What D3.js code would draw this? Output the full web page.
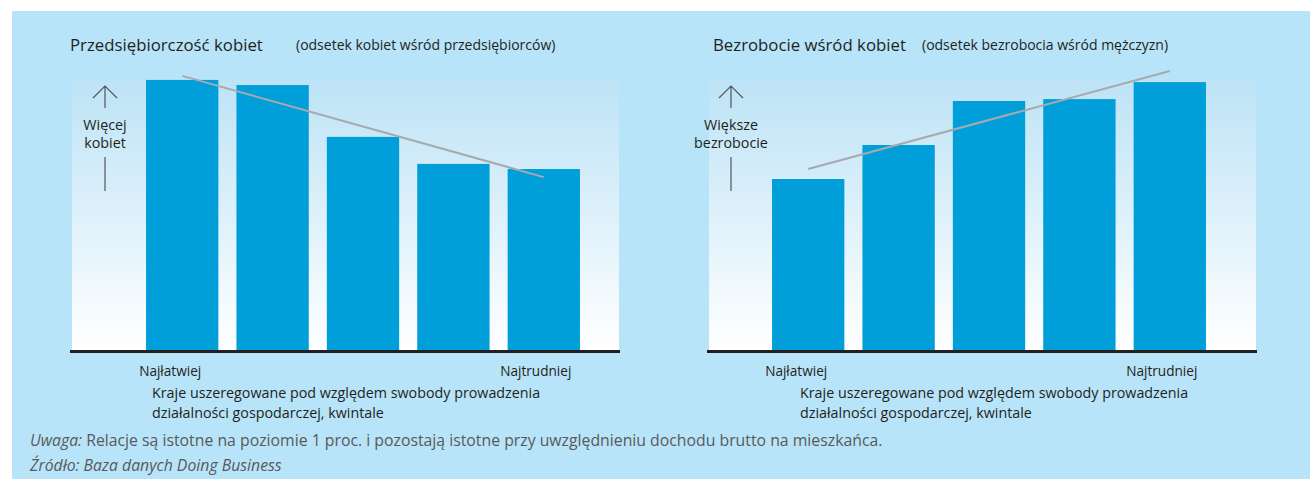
<!DOCTYPE html>
<html>
<head>
<meta charset="utf-8">
<script src="https://cdn.jsdelivr.net/npm/d3@7"></script>
<style>
  body { margin: 0; background: #fff; }
  text { font-family: "Open Sans", "Noto Sans", sans-serif; fill: #231f20; }
</style>
</head>
<body>
<script>
// quintiles, easiest -> hardest to do business
var quintiles = ["Q1", "Q2", "Q3", "Q4", "Q5"];
var womenEntrepreneurs = [100.4, 98.5, 79.3, 69.3, 67.4];
var womenUnemployment = [63.7, 76.3, 92.6, 93.3, 99.6];
var trendLeft = [101.9, 64.4];
var trendRight = [67.4, 103.7];
var endLabels = ["Najłatwiej", "Najtrudniej"];
var xTitle = ["Kraje uszeregowane pod względem swobody prowadzenia", "działalności gospodarczej, kwintale"];

var width = 1310, height = 479;
var svg = d3.select("body").append("svg").attr("width", width).attr("height", height);

var grad = svg.append("defs").append("linearGradient")
  .attr("id", "bg").attr("x1", 0).attr("y1", 0).attr("x2", 0).attr("y2", 1);
grad.append("stop").attr("offset", "0%").attr("stop-color", "#bde3f6");
grad.append("stop").attr("offset", "100%").attr("stop-color", "#ffffff");

svg.append("rect").attr("x", 12).attr("y", 11).attr("width", width - 12).attr("height", height - 11)
  .attr("fill", "#b8e4f9");

var y = d3.scaleLinear().domain([0, 100]).range([351, 81]);

function drawPanel(cfg) {
  var g = svg.append("g");
  var x = d3.scaleBand().domain(quintiles).range(cfg.range).paddingInner(0.2).paddingOuter(0.1);

  g.append("rect").attr("x", cfg.box[0]).attr("y", 80).attr("width", cfg.box[1] - cfg.box[0])
    .attr("height", y(0) - 80).attr("fill", "url(#bg)");

  g.selectAll(".bar").data(cfg.values).enter().append("rect")
    .attr("x", function(d, i) { return x(quintiles[i]); })
    .attr("y", function(d) { return y(d); })
    .attr("width", x.bandwidth())
    .attr("height", function(d) { return y(0) - y(d); })
    .attr("fill", "#009fda");

  g.append("line").attr("x1", cfg.box[0] - 2).attr("x2", cfg.box[1] + 1)
    .attr("y1", y(0) + 0.5).attr("y2", y(0) + 0.5)
    .attr("stroke", "#231f20").attr("stroke-width", 3);

  var cx = function(q) { return x(q) + x.bandwidth() / 2; };
  g.append("line")
    .attr("x1", cx(quintiles[0])).attr("y1", y(cfg.trend[0]))
    .attr("x2", cx(quintiles[4])).attr("y2", y(cfg.trend[1]))
    .attr("stroke", "#a7a9ac").attr("stroke-width", 2);

  // titles
  g.append("text").attr("x", cfg.titleX).attr("y", 51).attr("font-size", 16.8).text(cfg.title);
  g.append("text").attr("x", cfg.subX).attr("y", 50).attr("font-size", 14).text(cfg.sub);

  // up arrow + label
  var ax = cfg.arrowX;
  g.append("path").attr("d", "M" + ax + ",108V87M" + (ax - 12) + ",98L" + ax + ",86L" + (ax + 12) + ",98")
    .attr("fill", "none").attr("stroke", "#555").attr("stroke-width", 1.2);
  g.append("line").attr("x1", ax).attr("x2", ax).attr("y1", 157).attr("y2", 191)
    .attr("stroke", "#555").attr("stroke-width", 1.2);
  g.selectAll(".ylab").data(cfg.yLabel).enter().append("text")
    .attr("x", ax).attr("y", function(d, i) { return 130 + i * 18; })
    .attr("text-anchor", "middle").attr("font-size", 14.3).text(function(d) { return d; });

  g.append("text").attr("x", cx(quintiles[0]) - 12).attr("y", 376).attr("text-anchor", "middle")
    .attr("font-size", 13.6).text(endLabels[0]);
  g.append("text").attr("x", cx(quintiles[4]) - 8).attr("y", 376).attr("text-anchor", "middle")
    .attr("font-size", 13.6).text(endLabels[1]);
  g.selectAll(".xt").data(xTitle).enter().append("text")
    .attr("x", cfg.xTitleX).attr("y", function(d, i) { return 398 + i * 20; })
    .attr("font-size", 14.3).text(function(d) { return d; });
}

drawPanel({
  range: [137, 589], box: [72, 619], values: womenEntrepreneurs, trend: trendLeft,
  title: "Przedsiębiorczość kobiet", titleX: 70,
  sub: "(odsetek kobiet wśród przedsiębiorców)", subX: 296,
  arrowX: 105, yLabel: ["Więcej", "kobiet"], xTitleX: 152
});
drawPanel({
  range: [763, 1215], box: [709, 1256], values: womenUnemployment, trend: trendRight,
  title: "Bezrobocie wśród kobiet", titleX: 713,
  sub: "(odsetek bezrobocia wśród mężczyzn)", subX: 922,
  arrowX: 731, yLabel: ["Większe", "bezrobocie"], xTitleX: 800
});

var note = svg.append("text").attr("x", 30).attr("y", 446).attr("font-size", 15.8).attr("fill", "#58595b");
note.append("tspan").attr("font-style", "italic").style("fill", "#58595b").text("Uwaga:");
note.append("tspan").style("fill", "#58595b").text(" Relacje są istotne na poziomie 1 proc. i pozostają istotne przy uwzględnieniu dochodu brutto na mieszkańca.");
svg.append("text").attr("x", 30).attr("y", 471).attr("font-size", 15.8).attr("font-style", "italic")
  .style("fill", "#58595b").text("Źródło: Baza danych Doing Business");
</script>
</body>
</html>
